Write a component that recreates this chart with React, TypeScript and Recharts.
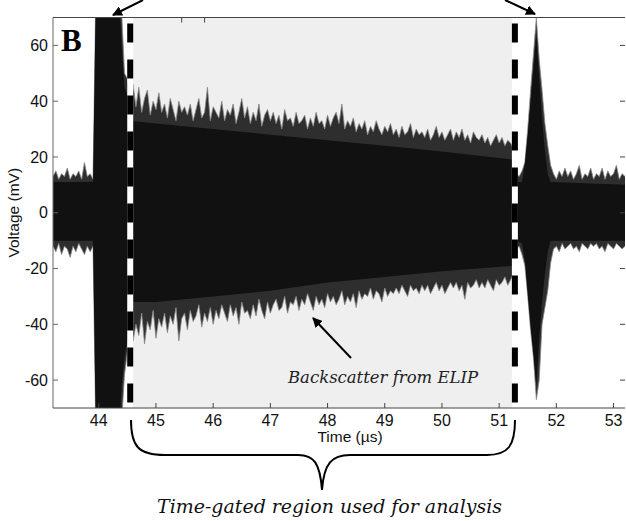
import React from "react";
import {
  Area,
  ComposedChart,
  ReferenceArea,
  ReferenceLine,
  XAxis,
  YAxis,
} from "recharts";

// sampled envelope of the echo trace, 0.05 us per sample from 43.2 us
const sampleStart = 43.2;
const sampleStep = 0.05;

// tips of the spikes (mV)
const spikeHigh = [
  13, 15, 12, 14, 13, 16, 12, 14, 13, 15,
  12, 18, 13, 14, 12, 80, 80, 80, 80, 80,
  80, 80, 80, 80, 72, 50, 48, 42, 46, 38,
  45, 36, 41, 44, 35, 40, 37, 43, 36, 39,
  34, 41, 37, 33, 40, 36, 38, 35, 39, 33,
  37, 41, 34, 36, 45, 33, 38, 36, 34, 40,
  33, 37, 35, 39, 32, 36, 41, 34, 38, 32,
  36, 33, 39, 31, 35, 37, 33, 36, 32, 35,
  30, 37, 33, 34, 31, 36, 32, 33, 35, 30,
  34, 31, 36, 32, 33, 30, 35, 31, 34, 36,
  32, 39, 30, 33, 31, 34, 29, 32, 30, 33,
  28, 31, 29, 33, 30, 28, 31, 29, 32, 28,
  30, 27, 31, 28, 29, 32, 27, 30, 28, 29,
  27, 30, 26, 28, 31, 27, 29, 26, 28, 30,
  26, 29, 27, 30, 26, 28, 25, 29, 27, 26,
  28, 25, 27, 24, 26, 28, 25, 27, 24, 26,
  25, 23, 14, 13, 15, 18, 30, 44, 57, 70,
  55, 44, 32, 24, 17, 14, 12, 15, 13, 16,
  13, 15, 12, 14, 17, 12, 14, 13, 16, 12,
  14, 13, 16, 12, 15, 13, 14, 17, 12, 14,
  13,
];

const spikeLow = [
  -12, -14, -11, -15, -12, -13, -16, -12, -14, -11,
  -13, -15, -12, -14, -12, -80, -80, -80, -80, -80,
  -80, -80, -80, -80, -75, -58, -50, -38, -46, -40,
  -44, -36, -47, -39, -42, -35, -45, -38, -41, -36,
  -43, -37, -40, -34, -46, -38, -36, -42, -35, -39,
  -37, -33, -41, -36, -39, -34, -40, -35, -38, -33,
  -36, -39, -33, -37, -34, -40, -32, -36, -35, -38,
  -33, -37, -31, -35, -38, -32, -36, -33, -31, -35,
  -34, -30, -36, -32, -33, -30, -35, -31, -33, -29,
  -32, -35, -30, -33, -31, -34, -29, -32, -30, -33,
  -31, -28, -33, -30, -32, -29, -34, -28, -31, -29,
  -30, -27, -31, -28, -29, -32, -27, -30, -28, -29,
  -27, -29, -26, -28, -30, -26, -28, -27, -29, -26,
  -28, -26, -29, -27, -25, -28, -26, -29, -27, -25,
  -27, -25, -28, -26, -31, -25, -27, -26, -24, -27,
  -25, -27, -24, -26, -28, -24, -26, -25, -23, -26,
  -24, -22, -13, -12, -15, -19, -30, -42, -52, -67,
  -60, -40, -34, -28, -18, -13, -12, -14, -11, -13,
  -12, -11, -13, -12, -14, -11, -12, -13, -11, -12,
  -11, -13, -12, -14, -11, -12, -13, -11, -12, -13,
  -12,
];

// solid dark core of the trace
const coreTimes = [
  43.2, 43.9, 43.95, 44.35, 44.4, 44.45, 44.5, 44.55, 45, 46, 47, 48, 49, 50,
  51.25, 51.3, 51.4, 51.45, 51.5, 51.55, 51.6, 51.65, 51.7, 51.75, 51.8, 51.85,
  51.9, 53.2,
];
const coreHigh = [
  11, 11, 80, 80, 60, 45, 42, 33, 32, 30, 28, 26, 24, 22,
  19, 11, 11, 18, 28, 40, 52, 64, 48, 34, 22, 14,
  11, 10,
];
const coreLow = [
  -10, -10, -80, -80, -62, -52, -46, -32, -32, -30, -28, -25, -23, -21,
  -19, -10, -11, -17, -29, -41, -51, -62, -45, -32, -22, -14,
  -10, -10,
];

const xTicks = [44, 45, 46, 47, 48, 49, 50, 51, 52, 53];
const yTicks = [-60, -40, -20, 0, 20, 40, 60];
const gateStart = 44.55;
const gateEnd = 51.275;

const table = spikeHigh.map((hi, i) => {
  const t = Number((sampleStart + i * sampleStep).toFixed(2));
  const k = coreTimes.indexOf(t);
  return {
    t,
    spike: [spikeLow[i], hi],
    core: k >= 0 ? [coreLow[k], coreHigh[k]] : null,
  };
});

const sans = "'Liberation Sans', Arial, sans-serif";
const tickFont = { fontFamily: sans, fontSize: 16, fill: "#111" };
const noteFont = "'DejaVu Serif', serif";
const noLabel = () => null;

export default function App() {
  return (
    <div style={{ position: "absolute", left: 0, top: 0, width: 626, height: 521, background: "#fff" }}>
      <ComposedChart width={626} height={521} data={table} margin={{ top: 16.5, right: 0, bottom: 83, left: 0 }}>
        <XAxis
          xAxisId="b"
          dataKey="t"
          type="number"
          domain={[43.2, 53.2]}
          ticks={xTicks}
          allowDataOverflow
          height={30}
          tickSize={-5}
          tickMargin={12}
          stroke="#444"
          tick={tickFont}
          label={{
            value: "Time (µs)",
            position: "insideBottom",
            offset: -4,
            dx: 11,
            style: { fontFamily: sans, fontSize: 15.5, fill: "#111" },
          }}
        />
        <XAxis
          xAxisId="t"
          orientation="top"
          type="number"
          domain={[43.2, 53.2]}
          ticks={xTicks}
          allowDataOverflow
          height={1}
          tickSize={-5}
          tick={noLabel}
          stroke="#444"
        />
        <YAxis
          yAxisId="l"
          type="number"
          domain={[-70, 70]}
          ticks={yTicks}
          allowDataOverflow
          width={53}
          tickSize={-5}
          tickMargin={10}
          stroke="#666"
          tick={tickFont}
          label={{
            value: "Voltage (mV)",
            angle: -90,
            position: "insideLeft",
            offset: 13,
            style: { textAnchor: "middle", fontFamily: sans, fontSize: 15.5, fill: "#111" },
          }}
        />
        <YAxis
          yAxisId="r"
          orientation="right"
          type="number"
          domain={[-70, 70]}
          ticks={yTicks}
          allowDataOverflow
          width={1}
          tickSize={-5}
          tick={noLabel}
          axisLine={false}
          stroke="#444"
        />
        <ReferenceArea xAxisId="b" yAxisId="l" x1={gateStart} x2={gateEnd} y1={-70} y2={70} fill="#efefef" fillOpacity={1} stroke="none" />
        <Area
          xAxisId="b"
          yAxisId="l"
          dataKey="spike"
          type="linear"
          stroke="#8a8a8a"
          strokeWidth={0.8}
          fill="#2e2e2e"
          fillOpacity={1}
          isAnimationActive={false}
          dot={false}
          activeDot={false}
        />
        <Area
          xAxisId="b"
          yAxisId="l"
          dataKey="core"
          type="linear"
          connectNulls
          stroke="none"
          fill="#111"
          fillOpacity={1}
          isAnimationActive={false}
          dot={false}
          activeDot={false}
        />
        <ReferenceLine xAxisId="b" yAxisId="l" x={gateStart} stroke="#fff" strokeWidth={6} />
        <ReferenceLine xAxisId="b" yAxisId="l" x={gateStart} stroke="#000" strokeWidth={6} strokeDasharray="19 17" strokeDashoffset={30.5} />
        <ReferenceLine xAxisId="b" yAxisId="l" x={gateEnd} stroke="#fff" strokeWidth={6} />
        <ReferenceLine xAxisId="b" yAxisId="l" x={gateEnd} stroke="#000" strokeWidth={6} strokeDasharray="19 17" strokeDashoffset={30.5} />
      </ComposedChart>

      <svg width={626} height={521} style={{ position: "absolute", left: 0, top: 0, pointerEvents: "none" }}>
        <defs>
          <marker id="head" viewBox="0 0 10 10" refX="9" refY="5" markerWidth="5" markerHeight="5" orient="auto">
            <path d="M0,0 L10,5 L0,10 Z" fill="#000" />
          </marker>
        </defs>
        <text x={61} y={51} fontFamily="'Liberation Serif', serif" fontWeight="bold" fontSize={31} fill="#000">
          B
        </text>
        <line x1={143} y1={0} x2={113} y2={15} stroke="#000" strokeWidth={2} markerEnd="url(#head)" />
        <line x1={505} y1={0} x2={535} y2={14} stroke="#000" strokeWidth={2} markerEnd="url(#head)" />
        <line x1={351} y1={358} x2={313} y2={318} stroke="#000" strokeWidth={2} markerEnd="url(#head)" />
        <text
          x={288}
          y={383}
          fontFamily={noteFont}
          fontStyle="italic"
          fontSize={16}
          fill="#222"
          textLength={190}
          lengthAdjust="spacingAndGlyphs"
        >
          Backscatter from ELIP
        </text>
        <path
          d="M131,420 C131,446 138,455 165,455 L298,455 C314,455 320,463 322,490 C324,463 332,455 350,455 L487,455 C508,455 515,446 515,420"
          fill="none"
          stroke="#000"
          strokeWidth={2}
        />
        <text
          x={157}
          y={513}
          fontFamily={noteFont}
          fontStyle="italic"
          fontSize={19}
          fill="#111"
          textLength={345}
          lengthAdjust="spacingAndGlyphs"
        >
          Time-gated region used for analysis
        </text>
      </svg>
    </div>
  );
}
